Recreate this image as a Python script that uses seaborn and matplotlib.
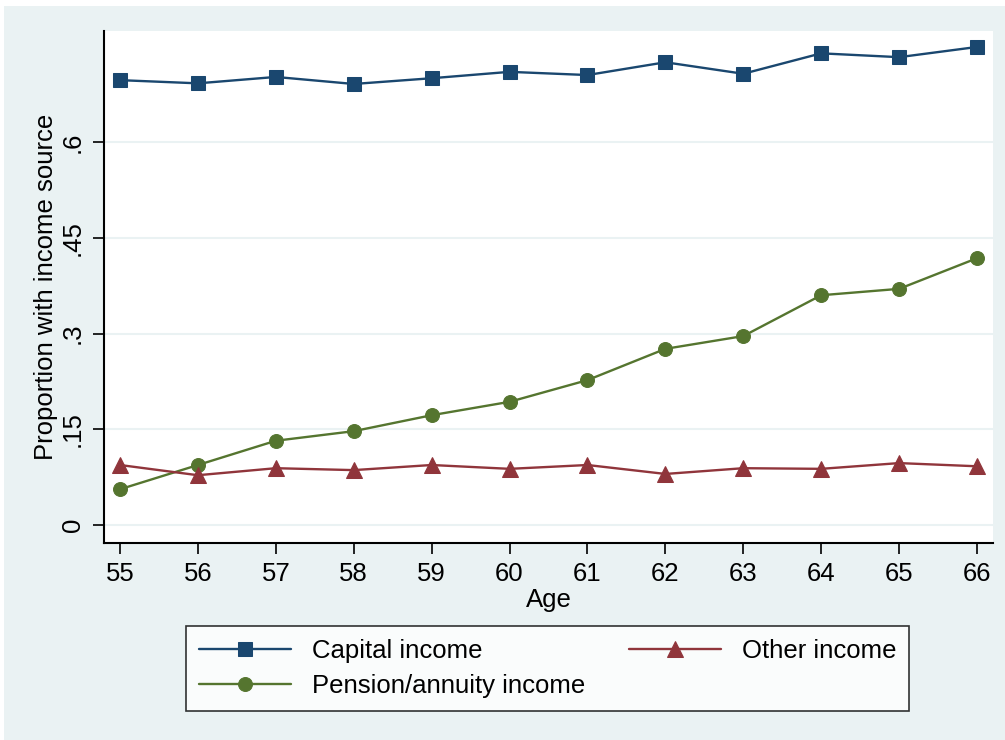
import numpy as np
import pandas as pd
import matplotlib
matplotlib.use("Agg")
import matplotlib.pyplot as plt
import seaborn as sns
from matplotlib.patches import Rectangle

# data
ages = [55, 56, 57, 58, 59, 60, 61, 62, 63, 64, 65, 66]
capital = [0.697, 0.692, 0.702, 0.691, 0.700, 0.710, 0.705, 0.725, 0.707, 0.739, 0.733, 0.749]
other = [0.094, 0.078, 0.089, 0.086, 0.094, 0.088, 0.094, 0.080, 0.089, 0.088, 0.097, 0.092]
pension = [0.056, 0.094, 0.132, 0.147, 0.172, 0.193, 0.227, 0.276, 0.296, 0.360, 0.370, 0.418]
yticks = [0, 0.15, 0.3, 0.45, 0.6]
ytick_labels = ["0", ".15", ".3", ".45", ".6"]

bg = "#eaf2f3"
c_cap, c_oth, c_pen = "#1a476f", "#90353b", "#55752f"
fs = 18.5

sns.set_style("white")
plt.rcParams["font.family"] = ["Liberation Sans", "DejaVu Sans"]
plt.rcParams["text.color"] = "black"
plt.rcParams["axes.labelcolor"] = "black"
plt.rcParams["xtick.color"] = "black"
plt.rcParams["ytick.color"] = "black"

fig = plt.figure(figsize=(10.05, 7.4), dpi=100, facecolor="white")
fig.patches.append(Rectangle((4 / 1005, 0), 1, 1 - 6 / 740, transform=fig.transFigure,
                             facecolor=bg, edgecolor="none", zorder=-10))
ax = fig.add_axes([104 / 1005, 1 - 543 / 740, (993 - 104) / 1005, (543 - 31) / 740])
ax.set_facecolor("white")

sns.lineplot(x=ages, y=capital, ax=ax, color=c_cap, marker="s", markersize=10,
             markeredgecolor=c_cap, linewidth=1.7, label="Capital income")
sns.lineplot(x=ages, y=pension, ax=ax, color=c_pen, marker="o", markersize=10,
             markeredgecolor=c_pen, linewidth=1.7, label="Pension/annuity income")
sns.lineplot(x=ages, y=other, ax=ax, color=c_oth, marker="^", markersize=11,
             markeredgecolor=c_oth, linewidth=1.7, label="Other income")

ax.set_xlim(54.795, 66.205)
ax.set_ylim(-0.0282, 0.774)
ax.set_xticks(ages)
ax.set_yticks(yticks)
ax.set_yticklabels(ytick_labels, rotation=90, va="center")
ax.tick_params(axis="both", direction="out", length=8, width=1.2, color="black",
               labelsize=fs, pad=6, left=True, bottom=True)
ax.grid(axis="y", color=bg, linewidth=1.5)
ax.grid(axis="x", visible=False)
for s in ["top", "right"]:
    ax.spines[s].set_visible(False)
for s in ["left", "bottom"]:
    ax.spines[s].set_color("black")
    ax.spines[s].set_linewidth(1.5)

ax.set_xlabel("Age", fontsize=fs, labelpad=1)
ax.set_ylabel("Proportion with income source", fontsize=fs, labelpad=2)

ax.legend_.remove()
h, l = ax.get_legend_handles_labels()
leg = fig.legend(h, l, ncol=2, loc="upper left", mode="expand",
                 bbox_to_anchor=(186 / 1005, 1 - 709 / 740, (909 - 186) / 1005, (709 - 626) / 740),
                 fontsize=fs, frameon=True, fancybox=False, edgecolor="black",
                 handlelength=3.6, handletextpad=0.8, borderpad=0.5, labelspacing=0.45,
                 columnspacing=2, borderaxespad=0)
leg.get_frame().set_linewidth(1.2)

fig.savefig("out.png", dpi=100, facecolor=fig.get_facecolor())
